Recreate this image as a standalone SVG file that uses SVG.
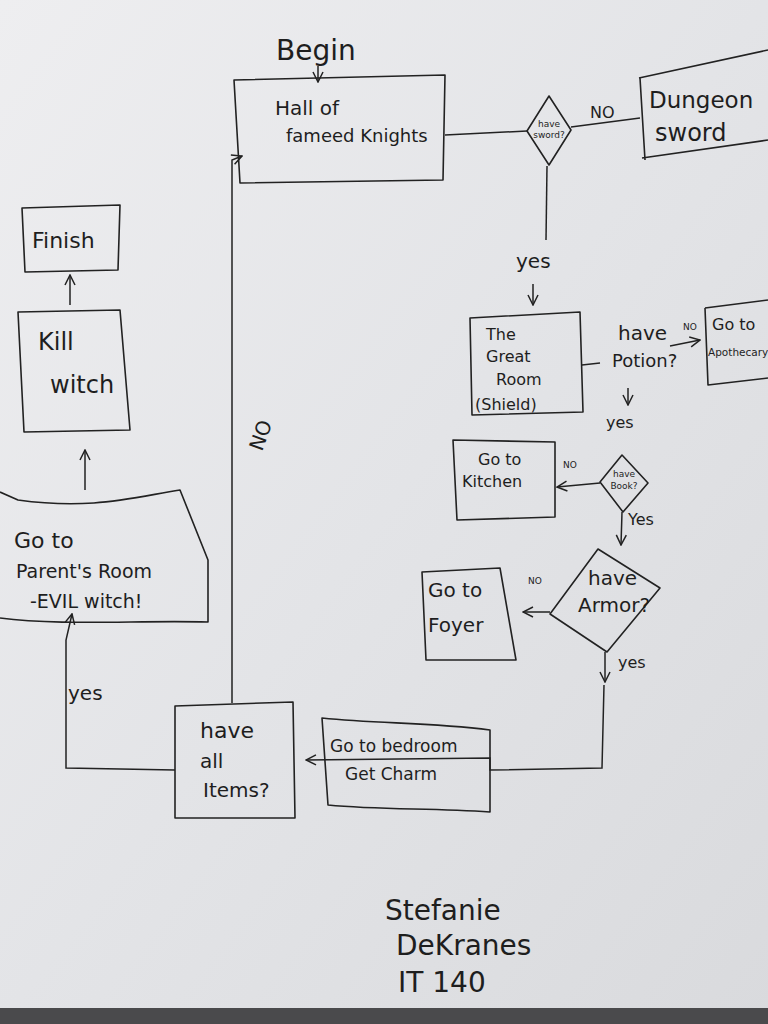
<svg xmlns="http://www.w3.org/2000/svg" width="768" height="1024" viewBox="0 0 768 1024">
<defs>
<linearGradient id="paper" x1="0" y1="0" x2="1" y2="1">
<stop offset="0" stop-color="#eeeef0"/>
<stop offset="0.5" stop-color="#e3e4e7"/>
<stop offset="1" stop-color="#d9dadd"/>
</linearGradient>
<marker id="v" viewBox="0 0 12 12" refX="11" refY="6" markerWidth="12" markerHeight="12" markerUnits="userSpaceOnUse" orient="auto">
<path d="M1,1 L11,6 L1,11" fill="none" stroke="#222" stroke-width="1.5"/>
</marker>
</defs>
<style>
.b{fill:none;stroke:#222;stroke-width:1.6;stroke-linejoin:round}
.c{fill:none;stroke:#222;stroke-width:1.5}
text{font-family:"DejaVu Sans","Liberation Sans",sans-serif;fill:#1e1e1e;font-size:20px}
.s{font-size:16px}
.x{font-size:9px}
</style>
<rect width="768" height="1024" fill="url(#paper)"/>
<rect y="1008" width="768" height="16" fill="#4a4a4c"/>

<g id="connectors">
<path class="c" d="M318,66 L318,82" marker-end="url(#v)"/>
<path class="c" d="M445,135 L527,131"/>
<path class="c" d="M571,127 L640,118"/>
<path class="c" d="M547,166 L546,240"/>
<path class="c" d="M533,284 L533,305" marker-end="url(#v)"/>
<path class="c" d="M582,365 L600,363"/>
<path class="c" d="M670,346 L700,340" marker-end="url(#v)"/>
<path class="c" d="M628,388 L628,405" marker-end="url(#v)"/>
<path class="c" d="M600,483 L557,487" marker-end="url(#v)"/>
<path class="c" d="M622,512 L621,545" marker-end="url(#v)"/>
<path class="c" d="M550,612 L523,612" marker-end="url(#v)"/>
<path class="c" d="M605,652 L605,682" marker-end="url(#v)"/>
<path class="c" d="M604,685 L602,768 L490,770 L490,758 L306,760" marker-end="url(#v)"/>
<path class="c" d="M232,703 L232,160 L242,156" marker-end="url(#v)"/>
<path class="c" d="M175,770 L66,768 L66,640 L72,614" marker-end="url(#v)"/>
<path class="c" d="M85,490 L85,450" marker-end="url(#v)"/>
<path class="c" d="M70,305 L70,275" marker-end="url(#v)"/>
<text class="s" x="590" y="118">NO</text>
<text x="516" y="268">yes</text>
<text class="x" x="683" y="330">NO</text>
<text class="s" x="606" y="428">yes</text>
<text class="x" x="563" y="468">NO</text>
<text class="s" x="628" y="525">Yes</text>
<text class="x" x="528" y="584">NO</text>
<text class="s" x="618" y="668">yes</text>
<text x="262" y="452" transform="rotate(-70 262 452)">NO</text>
<text x="68" y="700">yes</text>
</g>

<g id="begin"><text x="276" y="60" style="font-size:28px">Begin</text></g>

<g id="hall">
<path class="b" d="M234,80 L445,75 L443,180 L240,183 Z"/>
<text x="275" y="115">Hall of</text>
<text x="286" y="142" style="font-size:18px">fameed Knights</text>
</g>

<g id="have-sword">
<path class="b" d="M549,96 L571,130 L549,165 L527,131 Z"/>
<text class="x" x="549" y="127" text-anchor="middle">have</text>
<text class="x" x="549" y="138" text-anchor="middle">sword?</text>
</g>

<g id="dungeon">
<path class="b" d="M639,78 L768,50 M640,78 L645,160 M642,158 L768,140"/>
<text x="649" y="108" style="font-size:23px">Dungeon</text>
<text x="655" y="141" style="font-size:24px">sword</text>
</g>

<g id="great-room">
<path class="b" d="M470,318 L580,312 L583,412 L472,415 Z"/>
<text class="s" x="486" y="340">The</text>
<text class="s" x="486" y="362">Great</text>
<text class="s" x="496" y="385">Room</text>
<text class="s" x="475" y="410">(Shield)</text>
</g>

<g id="have-potion">
<text x="618" y="340">have</text>
<text x="612" y="367" style="font-size:18px">Potion?</text>
</g>

<g id="apothecary">
<path class="b" d="M705,308 L768,300 M705,308 L708,385 L768,378"/>
<text class="s" x="712" y="330">Go to</text>
<text x="708" y="356" style="font-size:10.5px">Apothecary</text>
</g>

<g id="kitchen">
<path class="b" d="M453,440 L555,442 L555,517 L457,520 Z"/>
<text class="s" x="478" y="465">Go to</text>
<text class="s" x="462" y="487">Kitchen</text>
</g>

<g id="have-book">
<path class="b" d="M622,455 L648,483 L623,512 L600,482 Z"/>
<text class="x" x="624" y="477" text-anchor="middle">have</text>
<text class="x" x="624" y="489" text-anchor="middle">Book?</text>
</g>

<g id="have-armor">
<path class="b" d="M598,549 L660,588 L607,652 L550,614 Z"/>
<text x="588" y="585">have</text>
<text x="578" y="612">Armor?</text>
</g>

<g id="foyer">
<path class="b" d="M422,572 L500,568 L516,660 L426,660 Z"/>
<text x="428" y="597">Go to</text>
<text x="428" y="632">Foyer</text>
</g>

<g id="bedroom">
<path class="b" d="M322,718 C380,724 430,722 490,730 L490,812 C430,808 380,810 328,805 Z"/>
<text x="330" y="752" style="font-size:17px">Go to bedroom</text>
<text x="345" y="780" style="font-size:17px">Get Charm</text>
</g>

<g id="have-all">
<path class="b" d="M175,706 L293,702 L295,818 L175,818 Z"/>
<text x="200" y="738" style="font-size:22px">have</text>
<text x="200" y="768">all</text>
<text x="203" y="797">Items?</text>
</g>

<g id="parents-room">
<path class="b" d="M0,492 L18,500 C90,510 130,498 180,490 L208,560 L208,622 C140,620 60,626 0,618"/>
<text x="14" y="548" style="font-size:22px">Go to</text>
<text x="16" y="578" style="font-size:19px">Parent's Room</text>
<text x="30" y="608" style="font-size:19px">-EVIL witch!</text>
</g>

<g id="kill-witch">
<path class="b" d="M18,312 L120,310 L130,430 L24,432 Z"/>
<text x="38" y="350" style="font-size:24px">Kill</text>
<text x="50" y="393" style="font-size:24px">witch</text>
</g>

<g id="finish">
<path class="b" d="M22,208 L120,205 L118,270 L25,272 Z"/>
<text x="32" y="248" style="font-size:22px">Finish</text>
</g>

<g id="signature">
<text x="385" y="920" style="font-size:28px">Stefanie</text>
<text x="396" y="955" style="font-size:28px">DeKranes</text>
<text x="398" y="992" style="font-size:28px">IT 140</text>
</g>
</svg>
